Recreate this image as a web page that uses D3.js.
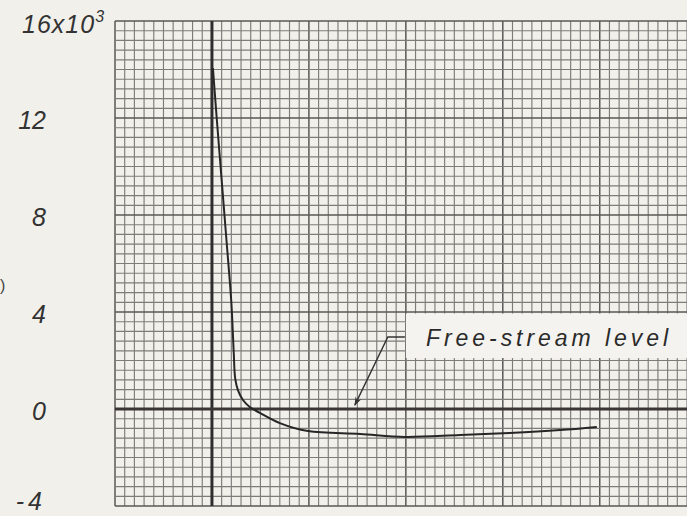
<!DOCTYPE html>
<html>
<head>
<meta charset="utf-8">
<script src="https://cdn.jsdelivr.net/npm/d3@7"></script>
<style>
  html, body { margin: 0; padding: 0; background: #f2f0eb; }
  svg { display: block; }
</style>
</head>
<body>
<svg id="chart" width="687" height="516"></svg>
<script>
// ---- data (x in major grid units from the heavy vertical line, y in units of 10^3) ----
const curveX = [0.01, 0.05, 0.10, 0.15, 0.20, 0.225, 0.24, 0.268, 0.32, 0.39, 0.495, 0.70, 0.99, 1.53, 1.99, 2.56, 3.07, 3.59, 3.97];
const curveY = [14.06, 11.95, 9.45, 6.95, 4.40, 2.30, 1.25, 0.78, 0.37, 0.08, -0.16, -0.58, -0.91, -1.03, -1.15, -1.07, -0.99, -0.87, -0.74];
const yTicks = [16, 12, 8, 4, 0, -4];
const yTickLabels = ["16x10", "12", "8", "4", "0", "-4"];
const freeStreamLevel = 0;
const annotationText = "Free-stream level";
const leaderX = [1.99, 1.814, 1.474];
const leaderY = [2.97, 2.97, 0.16];

// ---- layout ----
const W = 687, H = 516;
const svg = d3.select("#chart");
const x = d3.scaleLinear().domain([-1, 4.9]).range([115, 687]);
const y = d3.scaleLinear().domain([-4, 16]).range([506, 21]);

// paper
svg.append("rect").attr("width", W).attr("height", H).attr("fill", "#f2f0eb");

const grid = svg.append("g");
const minorX = d3.range(-1, 4.91, 0.1).map(v => +v.toFixed(2));
const minorY = d3.range(-4, 16.01, 0.4).map(v => +v.toFixed(2));
const isMajorX = v => Math.abs(v - Math.round(v)) < 1e-6;
const isMajorY = v => Math.abs(v / 4 - Math.round(v / 4)) < 1e-6;

grid.selectAll("line.vx").data(minorX).join("line")
  .attr("x1", d => x(d)).attr("x2", d => x(d))
  .attr("y1", y(16)).attr("y2", y(-4))
  .attr("stroke", d => isMajorX(d) ? "#585856" : "#7c7c79")
  .attr("stroke-width", d => isMajorX(d) ? 1.5 : 1.15);
grid.selectAll("line.hy").data(minorY).join("line")
  .attr("y1", d => y(d)).attr("y2", d => y(d))
  .attr("x1", x(-1)).attr("x2", W)
  .attr("stroke", d => isMajorY(d) ? "#585856" : "#7c7c79")
  .attr("stroke-width", d => isMajorY(d) ? 1.5 : 1.15);

// heavy axes
svg.append("line")
  .attr("x1", x(0)).attr("x2", x(0)).attr("y1", y(16)).attr("y2", y(-4))
  .attr("stroke", "#2e2e2e").attr("stroke-width", 3);
svg.append("line")
  .attr("x1", x(-1)).attr("x2", W).attr("y1", y(freeStreamLevel)).attr("y2", y(freeStreamLevel))
  .attr("stroke", "#3a3636").attr("stroke-width", 3);

// annotation box
const boxLeft = x(1.99) + 1, boxTop = y(4) + 1.5, boxBottom = y(2.1);
svg.append("rect")
  .attr("x", boxLeft).attr("y", boxTop)
  .attr("width", W - boxLeft).attr("height", boxBottom - boxTop)
  .attr("fill", "#f4f3ef");
svg.append("text")
  .attr("x", 426).attr("y", y(2.6))
  .attr("font-family", "Liberation Sans, Arial, sans-serif")
  .attr("font-style", "italic")
  .attr("font-size", 23)
  .attr("fill", "#2a2a2a")
  .attr("textLength", 242).attr("lengthAdjust", "spacing")
  .text(annotationText);

// leader + arrow
const defs = svg.append("defs");
defs.append("marker").attr("id", "arr").attr("viewBox", "0 0 10 10")
  .attr("refX", 9).attr("refY", 5).attr("markerWidth", 11).attr("markerHeight", 9)
  .attr("orient", "auto-start-reverse").attr("markerUnits", "userSpaceOnUse")
  .append("path").attr("d", "M0,1.5 L10,5 L0,8.5 L3,5 Z").attr("fill", "#333");
const leader = d3.line().x((d, i) => x(leaderX[i])).y((d, i) => y(leaderY[i]));
svg.append("path").attr("d", leader(leaderX))
  .attr("fill", "none").attr("stroke", "#333").attr("stroke-width", 1.4)
  .attr("marker-end", "url(#arr)");

// curve
const line = d3.line().x((d, i) => x(curveX[i])).y((d, i) => y(curveY[i])).curve(d3.curveCatmullRom.alpha(0.5));
svg.append("path").attr("d", line(curveX))
  .attr("fill", "none").attr("stroke", "#262626").attr("stroke-width", 2)
  .attr("stroke-linejoin", "round");

// y tick labels
const labels = svg.append("g")
  .attr("font-family", "Liberation Sans, Arial, sans-serif")
  .attr("font-style", "italic").attr("font-size", 25).attr("fill", "#333");
labels.selectAll("text").data(yTicks).join("text")
  .attr("x", (d, i) => i === 0 ? 22 : 46)
  .attr("y", d => Math.min(y(d) + 11, 510))
  .attr("text-anchor", (d, i) => i === 0 ? "start" : "end")
  .attr("letter-spacing", d => d < 0 ? 4 : null)
  .each(function(d, i) {
    const t = d3.select(this);
    t.text(yTickLabels[i]);
    if (i === 0) {
      t.attr("y", y(d) + 12).attr("letter-spacing", 1);
      t.append("tspan").attr("dy", -11).attr("font-size", 16).text("3");
    }
  });
// fragment of cut-off axis title at the left edge
svg.append("text").attr("x", 0).attr("y", 291)
  .attr("font-family", "Liberation Sans, Arial, sans-serif").attr("font-size", 16)
  .attr("fill", "#444").text(")");
</script>
</body>
</html>
